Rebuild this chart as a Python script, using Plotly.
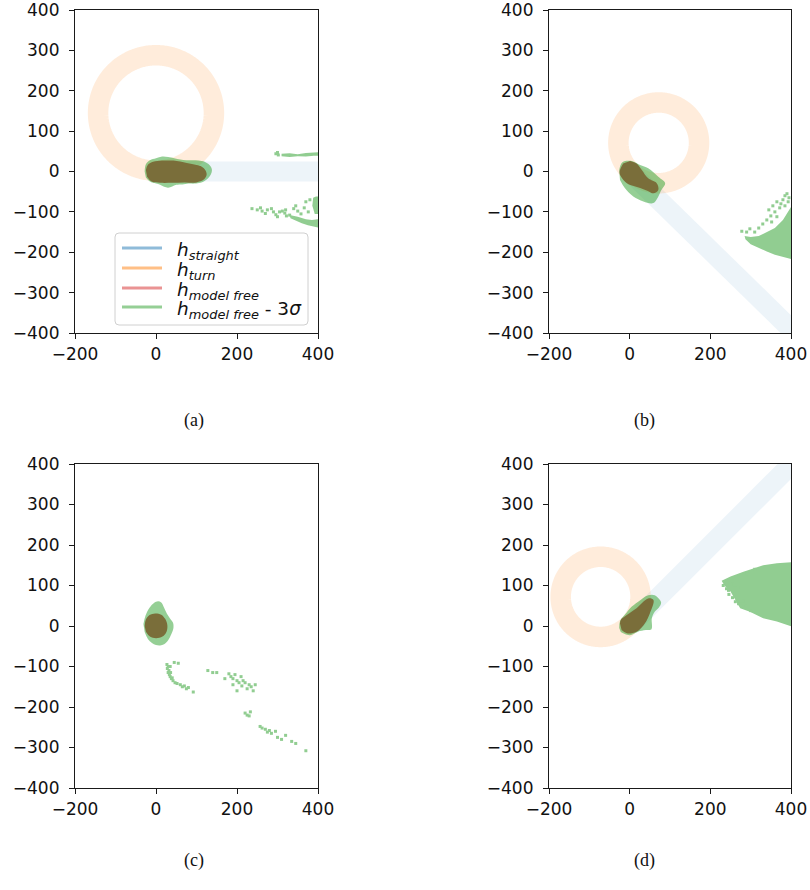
import numpy as np
import plotly.graph_objects as go

# ---------------- data ----------------
panel_ids = ["a", "b", "c", "d"]

# straight manoeuvre (centre line of band)
straight_x = {"a": [0, 450], "b": [0, 425], "c": None, "d": [0, 430]}
straight_y = {"a": [0, 0], "b": [0, -415], "c": None, "d": [0, 428]}

# turn manoeuvre (circle centre / radius)
turn_cx = {"a": 0, "b": 72, "c": None, "d": -72}
turn_cy = {"a": 145, "b": 71, "c": None, "d": 72}
turn_r = {"a": 143, "b": 100, "c": None, "d": 99}

# model free - 3 sigma (green) main blob
green_x = {
    "a": [-28, -25, -15, 0, 15, 30, 45, 60, 75, 90, 105, 120, 132, 138, 135, 125, 110, 95, 80, 65, 50, 40, 30, 20, 10, 0, -15, -25],
    "b": [-26, -18, 5, 26, 46, 71, 88, 79, 59, 34, 9, -12, -24],
    "c": [-31, -26, -16, -5, 5, 13, 20, 27, 35, 42, 43, 38, 30, 20, 10, 0, -10, -20, -28],
    "d": [-26, -24, -10, 1, 21, 46, 62, 78, 72, 62, 55, 54, 40, 20, 1, -12, -22],
}
green_y = {
    "a": [0, 18, 28, 33, 37, 36, 33, 30, 28, 28, 27, 24, 16, 5, -8, -20, -28, -30, -30, -32, -33, -37, -40, -38, -33, -30, -25, -15],
    "b": [4, 23, 26, 16, 8, -13, -29, -45, -78, -74, -62, -41, -21],
    "c": [5, 25, 45, 57, 61, 58, 45, 30, 18, 8, -5, -20, -35, -45, -48, -47, -42, -32, -15],
    "d": [-5, 12, 30, 44, 60, 76, 76, 58, 45, 35, 19, -8, -10, -14, -23, -20, -15],
}

# model free (olive overlap) blob
olive_x = {
    "a": [-25, -20, -7, 15, 43, 76, 100, 113, 122, 125, 118, 100, 70, 40, 10, -11, -22],
    "b": [-16, -25, -22, -7, 10, 26, 45, 59, 71, 67, 46, 30, 17, 1],
    "c": [-28, -25, -16, -2, 13, 23, 28, 26, 16, 0, -15, -25],
    "d": [-24, -22, -7, 17, 46, 59, 50, 38, 17, -7, -20],
}
olive_y = {
    "a": [4, 17, 24, 27, 27, 21, 16, 12, 3, -8, -20, -27, -27, -28, -28, -25, -13],
    "b": [20, 0, -12, -29, -36, -41, -48, -54, -46, -29, -17, 4, 20, 26],
    "c": [0, 16, 27, 31, 28, 17, 2, -14, -26, -30, -26, -14],
    "d": [6, 15, 27, 44, 68, 64, 31, 7, -14, -18, -10],
}

# outlying model-free - 3 sigma regions (filled patches)
patch_x = {
    "a": [[310, 330, 350, 370, 390, 405, 405, 390, 370, 350, 330, 310],
          [330, 350, 370, 385, 400, 405, 405, 390, 375, 360, 345, 332],
          [388, 395, 405, 405, 392, 386]],
    "b": [[285, 300, 320, 340, 360, 380, 395, 405, 405, 380, 360, 340, 320, 300, 287]],
    "c": [],
    "d": [[228, 250, 282, 331, 365, 405, 405, 365, 331, 298, 274, 250, 235]],
}
patch_y = {
    "a": [[44, 45, 43, 46, 47, 48, 39, 39, 37, 38, 36, 38],
          [-108, -112, -118, -120, -118, -110, -140, -137, -133, -128, -122, -116],
          [-65, -62, -62, -105, -105, -85]],
    "b": [[-160, -162, -160, -150, -140, -120, -95, -80, -218, -212, -206, -198, -190, -180, -168]],
    "c": [],
    "d": [[112, 122, 134, 150, 155, 158, -2, 11, 19, 35, 44, 85, 100]],
}

# isolated specks
speck_x = {
    "a": [296, 302, 300, 237, 250, 262, 270, 285, 290, 296, 305, 312, 320, 322, 330, 345, 350, 358, 366, 376, 275, 258, 318, 300, 340, 370, 380],
    "b": [355, 365, 372, 380, 385, 390, 395, 360, 350, 340, 375, 385, 393, 330, 320, 345, 310, 290, 278, 298, 365, 352],
    "c": [27, 30, 28, 32, 30, 33, 35, 38, 42, 47, 52, 35, 36, 40, 45, 55, 60, 65, 70, 75, 80, 92,
          128, 140, 150, 170, 180, 185, 190, 195, 200, 205, 210, 212, 215, 220, 225, 230, 235, 240, 245, 200, 190,
          220, 225, 230, 233, 257, 262, 270, 275, 280, 285, 295, 300, 310, 320, 335, 345, 370],
    "d": [232, 240, 246, 255, 262, 270, 258, 268, 280, 288, 300, 255, 245, 290, 310],
}
speck_y = {
    "a": [44, 41, 47, -92, -95, -98, -104, -92, -100, -107, -100, -98, -95, -110, -108, -85, -98, -105, -90, -100, -95, -90, -103, -112, -92, -75, -70],
    "b": [-85, -75, -90, -70, -60, -55, -65, -100, -110, -120, -80, -85, -75, -130, -140, -95, -150, -150, -148, -142, -112, -125],
    "c": [-95, -100, -105, -110, -115, -120, -125, -130, -135, -140, -142, -100, -115, -128, -90, -92, -145, -150, -148, -155, -152, -163,
          -110, -115, -115, -130, -118, -125, -130, -120, -135, -140, -125, -148, -135, -140, -155, -145, -150, -160, -145, -160, -145,
          -215, -220, -222, -212, -248, -252, -255, -262, -258, -265, -260, -275, -280, -270, -285, -290, -308],
    "d": [100, 92, 78, 70, 60, 55, 102, 95, 62, 50, 38, 112, 88, 128, 140],
}

x_ticks = [-200, 0, 200, 400]
y_ticks = [-400, -300, -200, -100, 0, 100, 200, 300, 400]
captions = ["(a)", "(b)", "(c)", "(d)"]
legend_labels = [
    "<i>h</i><sub><i>straight</i></sub>",
    "<i>h</i><sub><i>turn</i></sub>",
    "<i>h</i><sub><i>model free</i></sub>",
    "<i>h</i><sub><i>model free</i></sub> - 3<i>σ</i>",
]
legend_colors = ["rgba(31,119,180,0.5)", "rgba(255,127,14,0.5)",
                 "rgba(214,39,40,0.5)", "rgba(44,160,44,0.5)"]

# ---------------- styling ----------------
W, H = 810, 890
BLUE_BAND = "rgba(31,119,180,0.08)"
ORANGE_RING = "rgba(255,127,14,0.15)"
GREEN = "rgba(44,160,44,0.5)"
GREEN_SOLID = "rgb(145,205,145)"
OLIVE = "rgb(122,110,58)"

x_domains = {"a": [75 / W, 318 / W], "b": [549 / W, 791 / W],
             "c": [75 / W, 318 / W], "d": [549 / W, 791 / W]}
y_domains = {"a": [1 - 333 / H, 1 - 10 / H], "b": [1 - 333 / H, 1 - 10 / H],
             "c": [1 - 788 / H, 1 - 464 / H], "d": [1 - 788 / H, 1 - 464 / H]}

fig = go.Figure()

for i, p in enumerate(panel_ids):
    xa = "x" if i == 0 else f"x{i+1}"
    ya = "y" if i == 0 else f"y{i+1}"
    if straight_x[p] is not None:
        fig.add_trace(go.Scatter(x=straight_x[p], y=straight_y[p], mode="lines",
                                 line=dict(color=BLUE_BAND, width=20),
                                 showlegend=False, hoverinfo="skip", xaxis=xa, yaxis=ya))
    if turn_r[p] is not None:
        th = np.linspace(-np.pi / 2, 1.5 * np.pi, 361)
        fig.add_trace(go.Scatter(x=turn_cx[p] + turn_r[p] * np.cos(th),
                                 y=turn_cy[p] + turn_r[p] * np.sin(th), mode="lines",
                                 line=dict(color=ORANGE_RING, width=20.5, simplify=False),
                                 showlegend=False, hoverinfo="skip", xaxis=xa, yaxis=ya))
    for px_, py_ in zip(patch_x[p], patch_y[p]):
        fig.add_trace(go.Scatter(x=px_, y=py_, mode="lines", fill="toself",
                                 fillcolor=GREEN_SOLID, line=dict(width=0, color=GREEN_SOLID),
                                 showlegend=False, hoverinfo="skip", xaxis=xa, yaxis=ya))
    fig.add_trace(go.Scatter(x=speck_x[p], y=speck_y[p], mode="markers",
                             marker=dict(symbol="square", size=3, color=GREEN_SOLID, line=dict(width=0)),
                             showlegend=False, hoverinfo="skip", xaxis=xa, yaxis=ya))
    fig.add_trace(go.Scatter(x=green_x[p], y=green_y[p], mode="lines", fill="toself",
                             fillcolor=GREEN, line=dict(width=0, color=GREEN, shape="spline"),
                             showlegend=False, hoverinfo="skip", xaxis=xa, yaxis=ya))
    fig.add_trace(go.Scatter(x=olive_x[p], y=olive_y[p], mode="lines", fill="toself",
                             fillcolor=OLIVE, line=dict(width=0, color=OLIVE, shape="spline"),
                             showlegend=False, hoverinfo="skip", xaxis=xa, yaxis=ya))

axis_common = dict(showgrid=False, zeroline=False, showline=True, mirror=True,
                   linecolor="#1a1a1a", linewidth=1.2, ticks="outside", ticklen=5,
                   tickwidth=1.1, tickcolor="#1a1a1a", automargin=False,
                   ticklabeloverflow="allow",
                   tickfont=dict(family="DejaVu Sans", size=17, color="#111"))

layout = dict(width=W, height=H, margin=dict(l=0, r=0, t=0, b=0, autoexpand=False),
              paper_bgcolor="white", plot_bgcolor="white", showlegend=False)
for i, p in enumerate(panel_ids):
    sx = "" if i == 0 else str(i + 1)
    layout[f"xaxis{sx}"] = dict(axis_common, domain=x_domains[p], range=[-200, 400],
                                tickvals=x_ticks, anchor=f"y{sx}")
    layout[f"yaxis{sx}"] = dict(axis_common, domain=y_domains[p], range=[-400, 400],
                                tickvals=y_ticks, anchor=f"x{sx}", ticklabelstandoff=6)
fig.update_layout(**layout)

# ---- legend (panel a), drawn in paper coordinates ----
bx0, bx1, by0, by1, rr = 115, 308, 233, 325, 4
def fx(v): return v / W
def fy(v): return 1 - v / H
box_path = (f"M {fx(bx0 + rr)},{fy(by0)} L {fx(bx1 - rr)},{fy(by0)} "
            f"Q {fx(bx1)},{fy(by0)} {fx(bx1)},{fy(by0 + rr)} L {fx(bx1)},{fy(by1 - rr)} "
            f"Q {fx(bx1)},{fy(by1)} {fx(bx1 - rr)},{fy(by1)} L {fx(bx0 + rr)},{fy(by1)} "
            f"Q {fx(bx0)},{fy(by1)} {fx(bx0)},{fy(by1 - rr)} L {fx(bx0)},{fy(by0 + rr)} "
            f"Q {fx(bx0)},{fy(by0)} {fx(bx0 + rr)},{fy(by0)} Z")
fig.add_shape(type="path", path=box_path, xref="paper", yref="paper", layer="above",
              fillcolor="rgba(255,255,255,0.8)", line=dict(color="#d0d0d0", width=1))
rows = [248, 268, 288, 307]
for lab, col, ry in zip(legend_labels, legend_colors, rows):
    fig.add_shape(type="line", xref="paper", yref="paper", layer="above",
                  x0=fx(122), x1=fx(162), y0=fy(ry), y1=fy(ry),
                  line=dict(color=col, width=3))
    fig.add_annotation(x=fx(175), y=fy(ry + 3), xref="paper", yref="paper",
                       xanchor="left", yanchor="middle", text=lab, showarrow=False,
                       font=dict(family="DejaVu Sans", size=18.5, color="#111"))

cap_pos = {"a": (182, 420), "b": (657, 420), "c": (182, 873), "d": (657, 873)}
for p, cap in zip(panel_ids, captions):
    cx, cy = cap_pos[p]
    fig.add_annotation(x=fx(cx), y=fy(cy), xref="paper", yref="paper",
                       text=cap, showarrow=False,
                       font=dict(family="Liberation Serif", size=18, color="#111"))

fig.write_html("out.html")
